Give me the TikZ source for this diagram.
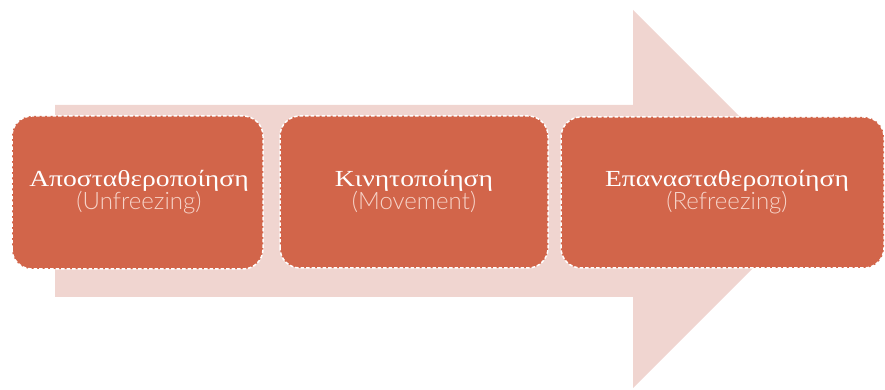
\documentclass[tikz,border=0pt]{standalone}
\usepackage{fontspec}
\setmainfont{Liberation Serif}
\newfontfamily\greekserif[FakeStretch=1.2]{Liberation Serif}
\newfontfamily\lightsans{Lato Light}
\begin{document}
\begin{tikzpicture}[x=1pt,y=1pt,
  stagebox/.style={draw=white, fill=boxred, line width=1.5pt,
    dash pattern=on 3.5pt off 2pt, rounded corners=20pt},
  stagetext/.style={anchor=base, text=white, inner sep=0pt,
    font=\greekserif\fontsize{23}{25}\selectfont},
  subtext/.style={anchor=base, text=subpink, inner sep=0pt,
    font=\lightsans\fontsize{24}{26}\selectfont}]
\definecolor{boxred}{HTML}{D2654A}
\definecolor{arrowpink}{HTML}{F0D5D0}
\definecolor{subpink}{HTML}{F6D3C8}
\useasboundingbox (0,0) rectangle (885,390);
% background arrow
\fill[arrowpink] (55,93) -- (633,93) -- (633,2) -- (822,191) -- (633,380)
  -- (633,285) -- (55,285) -- cycle;
% three stages
\draw[stagebox] (12,121) rectangle (263,274);
\draw[stagebox] (280,122) rectangle (548,274);
\draw[stagebox] (561,122) rectangle (884,273);
\node[stagetext] (s1) at (139,203) {Αποσταθεροποίηση};
\node[subtext] (u1) at (139,180) {(Unfreezing)};
\node[stagetext] (s2) at (414,203) {Κινητοποίηση};
\node[subtext] (u2) at (414,180) {(Movement)};
\node[stagetext] (s3) at (727,203) {Επανασταθεροποίηση};
\node[subtext] (u3) at (727,180) {(Refreezing)};
\end{tikzpicture}
\end{document}
